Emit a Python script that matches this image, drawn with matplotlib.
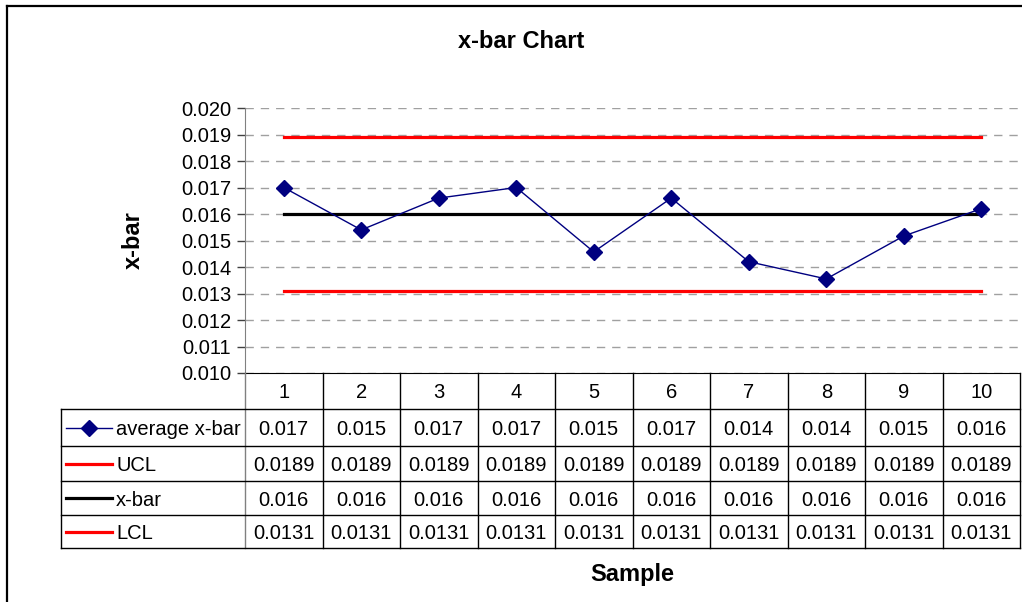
import numpy as np
import matplotlib
matplotlib.use('Agg')
import matplotlib.pyplot as plt
from matplotlib.lines import Line2D

# x-bar control chart with an Excel-style data table underneath

plt.rcParams['font.family'] = ['Liberation Sans', 'DejaVu Sans']

samples = ['1', '2', '3', '4', '5', '6', '7', '8', '9', '10']
avg_xbar = [0.0170, 0.0154, 0.0166, 0.0170, 0.01457, 0.0166, 0.0142, 0.01355, 0.01517, 0.0162]
ucl = [0.0189] * 10
xbar = [0.016] * 10
lcl = [0.0131] * 10
y_ticks = [0.010, 0.011, 0.012, 0.013, 0.014, 0.015, 0.016, 0.017, 0.018, 0.019, 0.020]

W, H = 1022, 602
fig = plt.figure(figsize=(W / 100, H / 100), dpi=100)


def fx(px):
    return px / W


def fy(py):
    return 1 - py / H


# outer chart frame (only left and top edges visible)
fig.add_artist(Line2D([fx(7), fx(7)], [fy(6), 0], color='black', lw=1.6))
fig.add_artist(Line2D([fx(7), 1], [fy(6), fy(6)], color='black', lw=1.6))

# plot area
left, right, top, bottom = 245, 1020, 108, 373
ax = fig.add_axes([fx(left), fy(bottom), (right - left) / W, (bottom - top) / H])
x = np.arange(len(samples))

ax.plot(x, ucl, color='#ff0000', lw=2.3, zorder=3)
ax.plot(x, xbar, color='black', lw=2.3, zorder=3)
ax.plot(x, lcl, color='#ff0000', lw=2.3, zorder=3)
ax.plot(x, avg_xbar, color='#000080', lw=1.0, marker='D', markersize=8, zorder=4)

ax.set_xlim(-0.5, len(samples) - 0.5)
ax.set_ylim(0.010, 0.020)
ax.set_yticks(y_ticks)
ax.set_yticklabels(['%.3f' % v for v in y_ticks], fontsize=14.5)
ax.set_xticks([])
ax.tick_params(axis='y', direction='out', length=6, width=1, color='#404040', pad=4)
ax.yaxis.grid(True, color='#a0a0a0', linestyle=(0, (6, 5)), lw=1)
ax.set_axisbelow(True)
for s in ['top', 'right']:
    ax.spines[s].set_visible(False)
ax.spines['left'].set_color('#808080')
ax.spines['bottom'].set_color('black')

fig.text(fx(521), fy(42), 'x-bar Chart', fontsize=17, fontweight='bold', ha='center', va='center')
fig.text(fx(133), fy(240), 'x-bar', rotation=90, fontsize=17, fontweight='bold', ha='center', va='center')
fig.text(fx(632), fy(574), 'Sample', fontsize=17, fontweight='bold', ha='center', va='center')

# data table, vertical positions in pixel rows
t_left, t_bottom = 61, 548
row_edges = [373, 409, 446, 481, 515, 548]
col_w = (right - left) / len(samples)
xl = -0.5 - (left - t_left) / col_w
tax = fig.add_axes([fx(t_left), fy(t_bottom), (right - t_left) / W, (t_bottom - bottom) / H])
tax.set_xlim(xl, len(samples) - 0.5)
tax.set_ylim(t_bottom, bottom)
tax.axis('off')

rows = [
    ('average x-bar', avg_xbar, '%.3f', '#000080', 1.0, 'D'),
    ('UCL', ucl, '%g', '#ff0000', 2.3, None),
    ('x-bar', xbar, '%g', 'black', 2.3, None),
    ('LCL', lcl, '%g', '#ff0000', 2.3, None),
]

lc = '#000000'
for i in range(len(samples) + 1):
    c = '#808080' if i == 0 else lc
    tax.plot([i - 0.5, i - 0.5], [row_edges[0], row_edges[-1]], color=c, lw=1, clip_on=False)
for e in row_edges[1:]:
    tax.plot([xl, len(samples) - 0.5], [e, e], color=lc, lw=1, clip_on=False)
tax.plot([xl, xl], [row_edges[1], row_edges[-1]], color=lc, lw=1, clip_on=False)

shift = 2  # push text a bit down so digits look centred
yc0 = (row_edges[0] + row_edges[1]) / 2 + shift
for i, s in enumerate(samples):
    tax.text(i, yc0, s, ha='center', va='center', fontsize=14.5)

k0 = xl + (66 - t_left) / col_w
k1 = xl + (112 - t_left) / col_w
kt = xl + (116 - t_left) / col_w
for r, (name, vals, fmt, color, lw, mk) in enumerate(rows):
    ym = (row_edges[r + 1] + row_edges[r + 2]) / 2
    tax.plot([k0, k1], [ym, ym], color=color, lw=lw, clip_on=False)
    if mk:
        tax.plot([(k0 + k1) / 2], [ym], marker=mk, color=color, markersize=8, clip_on=False)
    tax.text(kt, ym + shift, name, ha='left', va='center', fontsize=14.5)
    for i, v in enumerate(vals):
        tax.text(i, ym + shift, fmt % v, ha='center', va='center', fontsize=14.5)

fig.savefig('out.png', dpi=100)
